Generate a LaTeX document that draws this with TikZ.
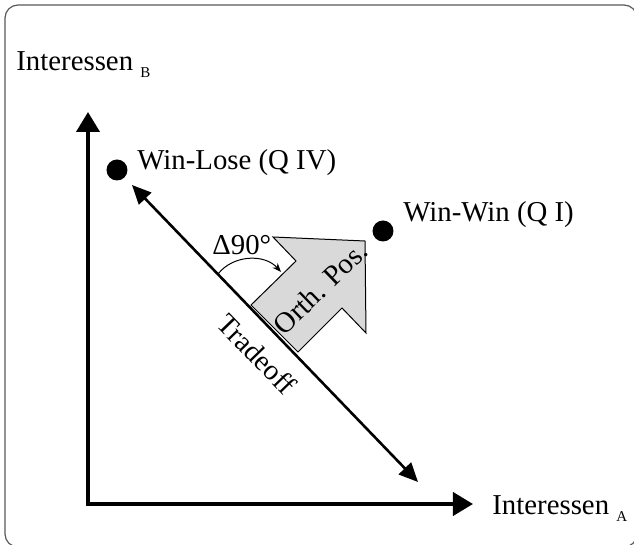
\documentclass[tikz,border=0pt]{standalone}
\usepackage{fontspec}
\setmainfont{Liberation Serif}
\usepackage{tikz}
\usetikzlibrary{arrows.meta,positioning,calc}

\newcommand{\subidx}[1]{\raisebox{-3.5pt}{\fontsize{7.5}{8}\selectfont #1}}

\begin{document}
\begin{tikzpicture}[
    x=0.5pt, y=-0.5pt,
    font=\fontsize{14.4}{16}\selectfont,
    axes/.style={line width=2pt, line join=miter,
      {Triangle[length=10pt,width=11.5pt]}-{Triangle[length=10pt,width=11.5pt]}},
    trade/.style={line width=1.3pt,
      {Triangle[length=9.5pt,width=8.5pt]}-{Triangle[length=9.5pt,width=8.5pt]}},
    dot/.style={circle, fill=black, inner sep=0pt, minimum size=10.5pt},
    lbl/.style={inner sep=0pt, anchor=base west},
    tilted/.style={inner sep=0pt},
    blockarrow/.style={draw=black, line width=0.5pt, fill=black!15, line join=miter},
    turn/.style={line width=0.5pt, -{Stealth[length=4.5pt,width=3.5pt]}}
  ]
    \useasboundingbox (0,0) rectangle (634,545);
    \clip (0,0) rectangle (634,545);
    \draw[black!65, line width=0.6pt, rounded corners=6.5pt] (5,5) rectangle (637,547);

    % axes
    \coordinate (origin) at (88,504);
    \coordinate (ytip) at (88,112);
    \coordinate (xtip) at (473,504);
    \draw[axes] (ytip) -- (origin) -- (xtip);
    \node[lbl] (intb) at (16,71) {Interessen \subidx{B}};
    \node[lbl] (inta) at (492,515) {Interessen \subidx{A}};

    % positions
    \node[dot] (winlose) at (117,170) {};
    \node[lbl] (winlosetxt) at (137,170) {Win-Lose (Q IV)};
    \node[dot] (winwin) at (383,231) {};
    \node[lbl] (winwintxt) at (403,222) {Win-Win (Q I)};

    % orthogonal move
    \filldraw[blockarrow] (251,305) -- (296,261) -- (273,237) -- (365,241)
      -- (366,333) -- (342,308) -- (298,352) -- cycle;
    \node[tilted, rotate=44] (orth) at (320,288) {Orth. Pos.};

    % tradeoff line
    \coordinate (tradetop) at (132,185);
    \coordinate (tradebot) at (418,482);
    \draw[trade] (tradetop) -- (tradebot);
    \node[tilted, rotate=-46] (tradetxt) at (257,354) {Tradeoff};

    \coordinate (turnstart) at (218,274);
    \coordinate (turnend) at (281,272);
    \draw[turn] (turnstart) to[bend left=50] (turnend);
    \node[lbl] (delta) at (212,255) {Δ90°};
  \end{tikzpicture}
\end{document}
